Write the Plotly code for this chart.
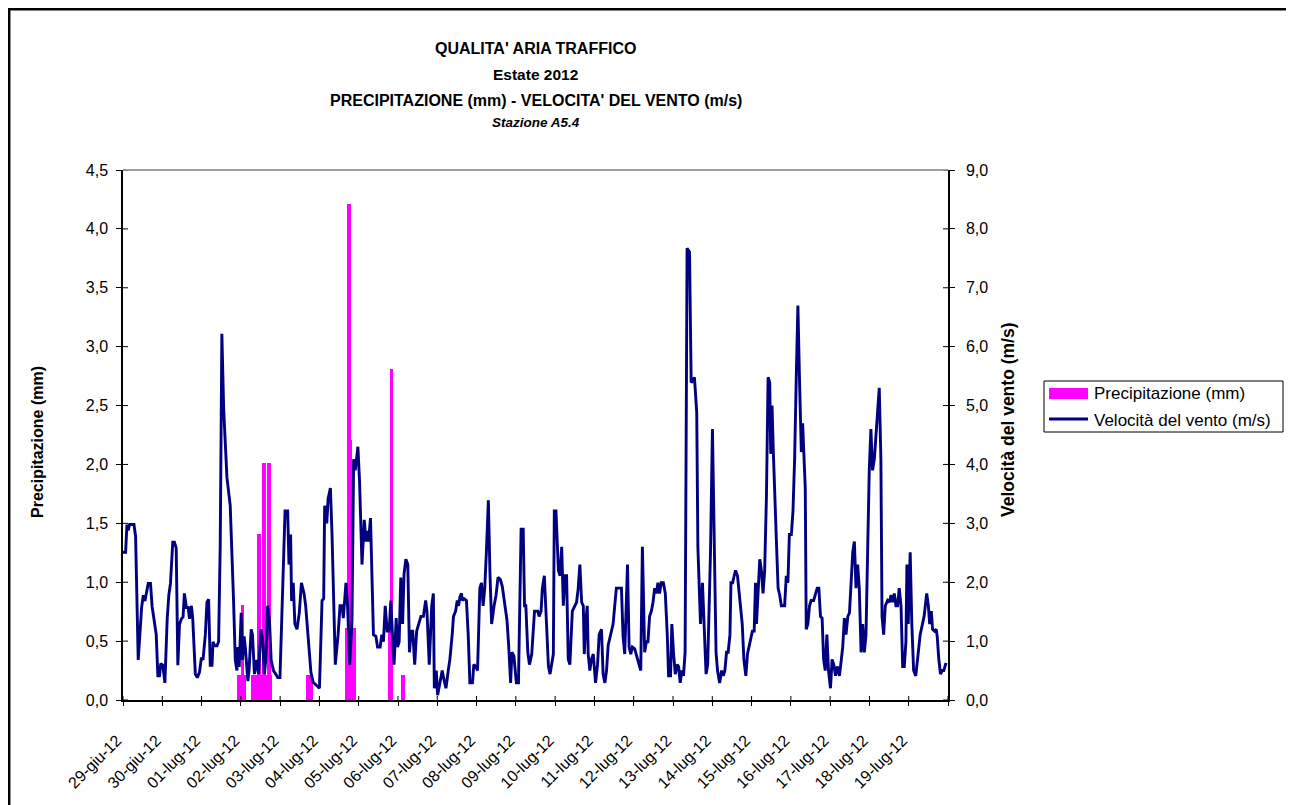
import plotly.graph_objects as go

# ---------------- data ----------------
day_labels = ["29-giu-12", "30-giu-12", "01-lug-12", "02-lug-12", "03-lug-12", "04-lug-12",
              "05-lug-12", "06-lug-12", "07-lug-12", "08-lug-12", "09-lug-12", "10-lug-12",
              "11-lug-12", "12-lug-12", "13-lug-12", "14-lug-12", "15-lug-12", "16-lug-12",
              "17-lug-12", "18-lug-12", "19-lug-12"]

left_ticks = [0.0, 0.5, 1.0, 1.5, 2.0, 2.5, 3.0, 3.5, 4.0, 4.5]
right_ticks = [0.0, 1.0, 2.0, 3.0, 4.0, 5.0, 6.0, 7.0, 8.0, 9.0]

# hours elapsed since 29-giu-12 00:00
rain_hours = [71, 72, 73, 74,
              79, 80, 81, 82, 83, 84, 85, 86, 87, 88, 89, 90,
              113, 114, 115,
              137, 138, 139, 140, 141,
              163, 164,
              171]
rain_mm = [0.2, 0.2, 0.8, 0.2,
           0.2, 0.2, 0.2, 0.2, 1.4, 0.2, 0.2, 2.0, 0.2, 0.2, 2.0, 0.2,
           0.2, 0.2, 0.2,
           0.6, 4.2, 2.2, 0.2, 0.6,
           0.6, 2.8,
           0.2]

wind_hours = [0, 1.6, 2.4, 3.2, 4, 6.7, 7.7, 9.3, 11.4, 12.4, 13.4, 15.4, 16.8, 17.8, 18.9, 20.3,
              21.3, 22.3, 23.1, 24.3, 25.6, 27, 28, 29, 30.4, 31.4, 32.5, 33.5, 34.5, 35.7, 36.7,
              37.5, 38.7, 39.8, 40.6, 41.8, 42.6, 44.2, 45.4, 46.7, 47.9, 48.9, 50.3, 51.3, 52.3,
              53.3, 54.4, 55, 56, 57.4, 58.4, 59.4, 60.4, 61.5, 63.5, 65.5, 67.5, 68.6, 69.6, 70.2,
              71, 72.2, 73, 74, 74.8, 76.3, 77, 78.3, 79.1, 80.3, 81.7, 82.8, 84.2, 85.2, 86.4,
              87.2, 88.4, 89.5, 90.5, 91.9, 93.3, 94.5, 95.9, 97, 98, 99, 100.6, 101.4, 102.4, 103,
              104, 105, 106.3, 107.7, 109, 110.6, 111.6, 113.2, 114.8, 116.2, 118.3,
              120, 121.6, 122.6, 123.2, 124.5, 125.3, 126.7, 127.7, 129.7, 131.4, 132.6, 133.8,
              134.6, 136.2, 137.2, 138.5, 139.9, 140.9, 141.9, 143.5, 144.5, 146, 147.4, 148.4,
              149, 150, 151.2, 153, 154.5, 155.5, 157.1, 158.1, 159.1, 160.2, 161.4, 162.6, 163.6,
              164.6, 165.6, 166.9, 167.7, 168.7, 169.7, 170.8, 171.7, 172.8, 174, 175, 176, 177,
              178.2, 179.4, 180.9, 182, 183.5, 184.9, 185.7, 187.1, 188.6, 189.6, 190.2, 191.4,
              192.2, 193.4, 195, 196.3, 197.3, 198.7, 199.7, 201.1, 201.9, 203.2, 204.2, 205,
              205.8, 206.8, 207.2, 208.4, 209.8, 210.9, 211.9, 213.5, 214.3, 215.5, 216.6, 218,
              219, 220, 221, 222, 223.2, 224.2, 225.2, 226.7, 227.9, 229.1, 230.5, 231.7, 233.2,
              234.6, 235.6, 236.8, 237.6, 238.8, 240.3,
              241.6, 243.2, 244.5, 245.3, 246.1, 247.3, 248.3, 249.7, 251.4, 253.4, 254.2, 255.4,
              256.2, 257.4, 258.9, 259.9, 260.9, 261.9, 262.9, 263.5, 264.5, 266, 267, 268, 269,
              270, 271, 272, 273, 274.5, 276.1, 277.1, 278.1, 279.1, 280.2, 281.2, 281.8, 282.6,
              283.6, 284.2, 285.2, 286.2, 287.3, 288.7, 289.9, 290.9, 292.3, 293.3, 294.4, 295.4,
              296.4, 298.4, 299.4, 300.4, 301.4, 302.4, 304.5, 305.5, 306.5, 308.2, 309.2, 310.2,
              311.2, 312.6, 313.8, 315.1, 316.3, 317.3, 318.7, 319.7, 320.7, 321.7, 322.8, 323.8,
              324.8, 325.8, 326.8, 327.8, 328.8, 330.1, 331.3, 332.5, 333.3, 334.5, 335.3, 336.3,
              337.4, 338.6, 339.4, 340.4, 341.4, 342.4, 343.4, 344.6, 346.1, 347.1, 348.1, 349.1,
              350.5, 351.2, 352.2, 352.8, 354, 355.2, 356.2, 357.2, 358.9, 360.1, 361.3, 362.3,
              363.2, 364.5, 365.7, 366.7, 367.7, 368.7, 369.7, 370.8, 371.4, 372.4, 373.4, 374.2,
              375.4, 376.9, 378.3, 379.3, 380.5, 381.5, 382.5, 383.5, 384.5, 385.6, 386.4, 387,
              388, 389, 390, 391, 392, 393.1, 394.1, 395.1, 395.7, 396.5, 397.3, 398.1, 399.1,
              400.2, 401.2, 402.2, 403.2, 404.2, 405.2, 406.2, 407.1, 408.3, 409.3, 410.3, 411.3,
              412.3, 413.3, 414.4, 415.2, 416, 416.8, 417.4, 418.4, 419.4, 420.4, 421.9, 422.9,
              424.1, 425.1, 426.1, 427.1, 428, 429, 430, 431, 432.2, 433.2, 434.2, 435.3, 436.3,
              437.7, 438.7, 439.7, 440.7, 441.7, 442.8, 443.8, 444.8, 445.8, 446.8, 447.8, 448.8,
              449.8, 450.9, 451.9, 452.9, 453.9, 454.9, 455.9, 456.9, 457.9, 459, 460, 461, 462,
              463, 463.7, 464.7, 465.7, 467.1, 468.2, 469.2, 470.2, 471.2, 472.2, 473.2, 474.2,
              475.3, 476.3, 477.3, 478.3, 478.9, 479.7, 480.9, 481.9, 483, 484.3, 485.4, 487,
              488.4, 489.4, 491, 492, 492.8, 493.8, 494.6, 495.8, 496.8, 497.4, 498.4, 499.4,
              500.4, 501.4, 502.8]

wind_ms = [2.51, 2.51, 2.98, 2.88, 2.98, 2.98, 2.78, 0.68, 1.58, 1.78, 1.68, 1.98, 1.98, 1.58, 1.38, 1.11,
           0.41, 0.41, 0.62, 0.59, 0.29, 1.38, 1.78, 1.98, 2.68, 2.68, 2.58, 0.59, 1.28, 1.38, 1.41,
           1.81, 1.57, 1.57, 1.38, 1.6, 1.38, 0.44, 0.38, 0.47, 0.72, 0.68, 1.11, 1.66, 1.71,
           0.59, 0.59, 0.99, 0.92, 0.92, 0.99, 2.63, 6.22, 4.94, 3.78, 3.3, 1.72, 0.68, 0.5, 0.9,
           0.56, 1.48, 0.68, 1.08, 0.87, 0.32, 0.5, 1.2, 1.11, 0.44, 0.68, 0.44, 1.2, 1.05, 0.44,
           0.68, 1.6, 1.35, 0.68, 0.5, 0.44, 0.38, 0.38, 1.35, 1.99, 3.21, 3.21, 2.3, 2.81, 1.68,
           1.99, 1.29, 1.2, 1.48, 1.99, 1.81, 1.6, 0.99, 0.47, 0.3, 0.25,
           0.2, 1.69, 1.72, 3.3, 3.0, 3.42, 3.6, 2.81, 0.6, 1.11, 1.6, 1.6,
           1.39, 1.99, 1.6, 0.6, 1.35, 4.09, 3.9, 4.3, 3.72, 2.3, 3.06, 2.69,
           2.87, 2.69, 3.09, 1.11, 1.08, 0.9, 0.9, 1.11, 0.99, 1.6, 1.17, 1.17, 1.69,
           1.11, 0.6, 1.39, 0.9, 0.99, 2.08, 1.29, 2.14, 2.39, 2.3, 0.81, 1.17, 1.17,
           0.6, 1.17, 1.32, 1.42, 1.42, 1.69, 1.51, 0.6, 1.6, 1.81, 0.2, 0.5,
           0.08, 0.29, 0.5, 0.32, 0.2, 0.5, 0.69, 1.11, 1.42, 1.51, 1.69, 1.6,
           1.75, 1.81, 1.69, 1.72, 1.69, 1.11, 0.29, 0.29, 0.6, 0.57, 0.5, 1.9,
           1.99, 1.6, 1.9, 2.51, 3.39, 2.14, 1.29, 1.6, 1.78, 2.08, 2.05, 1.93, 1.6,
           1.35, 0.93, 0.29, 0.81, 0.75, 0.29,
           0.29, 2.9, 2.9, 1.6, 1.6, 0.81, 0.6, 0.78, 1.51, 1.51, 1.42, 1.51,
           1.9, 2.11, 1.29, 0.57, 0.44, 0.6, 0.78, 3.21, 3.21, 2.2, 2.11, 2.6, 1.6,
           2.11, 2.11, 0.69, 0.6, 1.51, 1.6, 1.66, 1.9, 2.3, 1.66, 1.6, 0.78, 1.29,
           1.6, 0.78, 0.5, 0.69, 0.78, 0.29, 0.6, 1.11, 1.2, 0.44, 0.29, 0.5,
           0.93, 1.2, 1.29, 1.6, 1.9, 1.9, 1.9, 1.08, 0.78, 2.3, 0.9, 0.78,
           0.9, 0.87, 0.75, 0.6, 0.5, 2.6, 0.81, 0.99, 0.99, 1.42, 1.51, 1.66,
           1.9, 1.81, 1.99, 1.81, 1.99, 1.99, 1.81, 1.11, 0.41, 0.41, 1.29, 0.81,
           0.44, 0.6, 0.57, 0.29, 0.5, 0.41, 0.81, 7.67, 7.61, 5.39, 5.42, 5.48,
           4.88, 2.6, 1.6, 1.29, 1.99, 1.11, 0.44, 0.6, 2.51, 4.6, 2.51, 0.81,
           0.5, 0.29, 0.5, 0.41, 0.5, 0.81, 0.81, 1.11, 1.99, 1.99, 2.11, 2.2,
           2.11, 1.72, 1.29, 0.69, 0.41, 0.78, 0.9, 1.02, 1.17, 1.17, 1.99, 1.29,
           1.9, 2.39, 2.2, 1.81, 2.2, 3.48, 5.48, 5.39, 4.18, 5.0, 4.21, 3.42, 2.75,
           1.9, 1.78, 1.6, 1.6, 1.6, 2.11, 1.99, 2.81, 2.81, 3.21, 4.09, 5.48,
           6.7, 5.42, 4.21, 4.7, 4.15, 3.6, 1.2, 1.29, 1.6, 1.69, 1.69, 1.81,
           1.9, 1.9, 1.42, 1.39, 0.69, 0.5, 1.11, 0.5, 0.2, 0.69, 0.6, 0.41, 0.57,
           0.41, 0.69, 0.9, 1.39, 1.11, 1.42, 1.48, 1.99, 2.51, 2.69, 1.9, 2.3,
           1.9, 0.81, 1.29, 0.81, 1.11, 2.51, 3.9, 4.6, 3.9, 4.09, 4.45, 4.94, 5.3,
           4.09, 1.42, 1.11, 1.6, 1.69, 1.66, 1.78, 1.66, 1.81, 1.6, 1.6, 1.9,
           1.6, 0.57, 0.57, 0.99, 2.3, 1.29, 2.51, 1.29, 0.5, 0.41, 0.69, 1.11,
           1.29, 1.42, 1.81, 1.6, 1.29, 1.51, 1.2, 1.17, 1.2, 1.08, 0.69, 0.44,
           0.5, 0.5, 0.63]

tick_hours = [24 * i for i in range(len(day_labels))] + [24 * len(day_labels)]
tick_text = day_labels + [""]

FONT = "Liberation Sans, Arial, sans-serif"
PINK = "#FF00FF"
NAVY = "#000080"

# figure is placed by the page 8px from the top-left corner
W, H = 1286, 797
PL, PR, PT, PB = 115, 940, 162, 692           # plot area in figure pixels
PW, PHt = PR - PL, PB - PT


def px(xpage):
    return (xpage - 8 - PL) / PW


def py(ypage):
    return (PB - (ypage - 8)) / PHt


fig = go.Figure()
fig.add_trace(go.Bar(
    x=rain_hours, y=rain_mm, name="Precipitazione (mm)",
    marker=dict(color=PINK, line=dict(color=PINK, width=2)),
    width=1.0, yaxis="y", xaxis="x", showlegend=False,
))
fig.add_trace(go.Scatter(
    x=wind_hours, y=wind_ms, name="Velocità del vento (m/s)", mode="lines",
    line=dict(color=NAVY, width=2.9), yaxis="y2", xaxis="x", showlegend=False,
))

tickfont = dict(family=FONT, size=16, color="black")
fig.update_layout(
    width=W, height=H,
    margin=dict(l=PL, r=W - PR, t=PT, b=H - PB, pad=0),
    paper_bgcolor="white", plot_bgcolor="white",
    separators=", ",
    font=dict(family=FONT, color="black"),
    bargap=0,
    showlegend=False,
    xaxis=dict(range=[0, 504], tickmode="array", tickvals=tick_hours, ticktext=tick_text,
               tickangle=-45, ticks="outside", ticklen=4, tickwidth=1, tickcolor="black",
               showline=True, linecolor="black", linewidth=1.5, showgrid=False, zeroline=False,
               ticklabelstandoff=19, ticklabelshift=-6,
               tickfont=dict(family=FONT, size=16, color="black")),
    yaxis=dict(range=[0, 4.5], tickmode="array", tickvals=left_ticks, tickformat=".1f",
               ticks="outside", ticklen=5, tickwidth=1, tickcolor="black",
               showline=True, linecolor="black", linewidth=1.5, showgrid=False, zeroline=False,
               ticklabelstandoff=5, tickfont=tickfont),
    yaxis2=dict(range=[0, 9], tickmode="array", tickvals=right_ticks, tickformat=".1f",
                ticks="outside", ticklen=5, tickwidth=1, tickcolor="black",
                overlaying="y", side="right", anchor="x",
                showline=True, linecolor="black", linewidth=1.5, showgrid=False, zeroline=False,
                ticklabelstandoff=8, tickfont=tickfont),
)

shapes = []
# inside halves of the tick marks (ticks cross the axes)
for v in left_ticks:
    shapes.append(dict(type="line", xref="paper", yref="y", x0=0, x1=5 / PW, y0=v, y1=v,
                       line=dict(color="black", width=1)))
for v in right_ticks:
    shapes.append(dict(type="line", xref="paper", yref="y2", x0=1 - 5 / PW, x1=1, y0=v, y1=v,
                       line=dict(color="black", width=1)))
for t in tick_hours:
    shapes.append(dict(type="line", xref="x", yref="paper", x0=t, x1=t, y0=0, y1=4 / PHt,
                       line=dict(color="black", width=1)))
# grey top border of the plot area
shapes.append(dict(type="line", xref="paper", yref="paper", x0=0, x1=1, y0=1, y1=1,
                   line=dict(color="#808080", width=1.5)))
# outer chart frame
shapes.append(dict(type="rect", xref="paper", yref="paper",
                   x0=px(9.2), x1=px(1289), y0=py(820), y1=py(9.2),
                   line=dict(color="black", width=2.5), layer="below"))
# legend box
shapes.append(dict(type="rect", xref="paper", yref="paper",
                   x0=px(1044), x1=px(1283), y0=py(432), y1=py(381),
                   line=dict(color="black", width=1), fillcolor="white"))
shapes.append(dict(type="rect", xref="paper", yref="paper",
                   x0=px(1049), x1=px(1088), y0=py(399), y1=py(388),
                   line=dict(color=PINK, width=0), fillcolor=PINK))
shapes.append(dict(type="line", xref="paper", yref="paper",
                   x0=px(1049), x1=px(1088), y0=py(419), y1=py(419),
                   line=dict(color=NAVY, width=3)))
fig.update_layout(shapes=shapes)

annotations = []
titles = [
    ("<b>QUALITA' ARIA TRAFFICO</b>", 48, 16),
    ("<b>Estate 2012</b>", 74, 15.5),
    ("<b>PRECIPITAZIONE (mm) - VELOCITA' DEL VENTO (m/s)</b>", 100, 16),
    ("<b><i>Stazione A5.4</i></b>", 123, 13.5),
]
for text, ypage, size in titles:
    annotations.append(dict(text=text, xref="paper", yref="paper", x=0.5, y=py(ypage),
                            xanchor="center", yanchor="middle", showarrow=False,
                            font=dict(family=FONT, size=size, color="black")))
# axis titles
annotations.append(dict(text="<b>Precipitazione (mm)</b>", xref="paper", yref="paper",
                        x=px(37), y=py(442), textangle=-90, showarrow=False,
                        xanchor="center", yanchor="middle",
                        font=dict(family=FONT, size=16, color="black")))
annotations.append(dict(text="<b>Velocità del vento (m/s)</b>", xref="paper", yref="paper",
                        x=px(1008), y=py(420), textangle=-90, showarrow=False,
                        xanchor="center", yanchor="middle",
                        font=dict(family=FONT, size=17.5, color="black")))
# legend texts
annotations.append(dict(text="Precipitazione (mm)", xref="paper", yref="paper",
                        x=px(1092), y=py(393), xanchor="left", yanchor="middle", showarrow=False,
                        font=dict(family=FONT, size=17, color="black")))
annotations.append(dict(text="Velocità del vento (m/s)", xref="paper", yref="paper",
                        x=px(1092), y=py(420), xanchor="left", yanchor="middle", showarrow=False,
                        font=dict(family=FONT, size=17, color="black")))
fig.update_layout(annotations=annotations)

fig.write_html("out.html")
